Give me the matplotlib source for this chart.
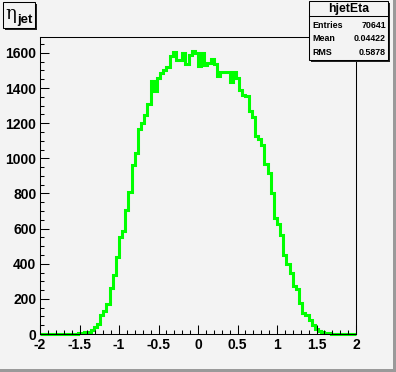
import numpy as np
import matplotlib
matplotlib.use("Agg")
import matplotlib.pyplot as plt
from matplotlib.patches import Rectangle
from matplotlib.ticker import MultipleLocator

# ─── DATA ─────────────────────────────────────────────────────────────────────
X_MIN, X_MAX, N_BINS = -2.0, 2.0, 100
counts = [
    0, 0, 0, 0, 0, 0, 0, 0, 0, 0,
    0, 1, 3, 6, 10, 12, 23, 42, 55, 108,
    133, 171, 260, 336, 440, 550, 587, 706, 809, 962,
    1033, 1165, 1203, 1245, 1310, 1440, 1385, 1456, 1484, 1500,
    1519, 1583, 1604, 1559, 1559, 1598, 1538, 1590, 1610, 1600,
    1525, 1600, 1530, 1540, 1567, 1535, 1470, 1492, 1492, 1490,
    1433, 1490, 1455, 1390, 1360, 1355, 1272, 1234, 1129, 1110,
    1074, 966, 917, 801, 658, 626, 564, 450, 399, 345,
    275, 254, 175, 121, 108, 80, 51, 30, 17, 10,
    5, 4, 2, 1, 0, 0, 0, 0, 0, 0,
]
hist_name = "hjetEta"
stat_labels = ["Entries", "Mean", "RMS"]
stat_values = ["70641", "0.04422", "0.5878"]
x_ticks = [-2, -1.5, -1, -0.5, 0, 0.5, 1, 1.5, 2]
x_tick_labels = ["-2", "-1.5", "-1", "-0.5", "0", "0.5", "1", "1.5", "2"]
y_ticks = [0, 200, 400, 600, 800, 1000, 1200, 1400, 1600]

W, H = 396, 372
BG = "#f3f3f3"
FONT = "Liberation Sans"

fig = plt.figure(figsize=(W / 100, H / 100), dpi=100, facecolor=BG)

def fx(px):
    return px / W

def fy(py):
    return 1 - py / H

# frame: x 40..356 px, y 37..334 px
ax = fig.add_axes([fx(40), fy(334), fx(356) - fx(40), fy(37) - fy(334)])
ax.set_facecolor(BG)

edges = np.linspace(X_MIN, X_MAX, N_BINS + 1)
ax.stairs(counts, edges, color="#00ff00", linewidth=2.2, baseline=None,
          clip_on=False, zorder=1)

ax.set_xlim(X_MIN, X_MAX)
ax.set_ylim(0, 1.05 * max(counts))

ax.set_xticks(x_ticks)
ax.set_xticklabels(x_tick_labels)
ax.set_yticks(y_ticks)
ax.xaxis.set_minor_locator(MultipleLocator(0.1))
ax.yaxis.set_minor_locator(MultipleLocator(50))
ax.tick_params(which="both", direction="in", width=0.75, color="black",
               top=False, right=False)
ax.tick_params(which="major", length=6.5)
ax.tick_params(which="minor", length=3.2)
ax.tick_params(axis="y", pad=2.6)
ax.tick_params(axis="x", pad=3.2)
for lab in ax.get_xticklabels() + ax.get_yticklabels():
    lab.set_fontfamily(FONT)
    lab.set_fontweight("bold")
    lab.set_fontsize(10)
for sp in ax.spines.values():
    sp.set_linewidth(0.75)
    sp.set_edgecolor("black")

# ─── title box ────────────────────────────────────────────────────────────────
def box(x0, y0, x1, y1, shadow=2):
    fig.patches.append(Rectangle((fx(x0 + shadow), fy(y1 + shadow)),
                                 fx(x1 - x0), fy(y0) - fy(y1),
                                 transform=fig.transFigure, facecolor="#222222",
                                 edgecolor="none", zorder=3))
    fig.patches.append(Rectangle((fx(x0), fy(y1)), fx(x1 - x0), fy(y0) - fy(y1),
                                 transform=fig.transFigure, facecolor=BG,
                                 edgecolor="black", linewidth=0.75, zorder=4))

box(3, 2, 35, 28)
fig.text(fx(5), fy(14), "η", fontsize=13, family="DejaVu Serif", ha="left",
         va="center", zorder=5)
fig.text(fx(17.5), fy(20), "jet", fontsize=9.5, family=FONT, fontweight="bold",
         ha="left", va="center", zorder=5)

# ─── stats box ────────────────────────────────────────────────────────────────
box(309, 1, 388, 60)
fig.lines.append(plt.Line2D([fx(309), fx(388)], [fy(16), fy(16)],
                            transform=fig.transFigure, color="black",
                            linewidth=0.75, zorder=5))
fig.text(fx(348.5), fy(9), hist_name, fontsize=8.8, family=FONT,
         fontweight="bold", ha="center", va="center", zorder=5)
for i, (lab, val) in enumerate(zip(stat_labels, stat_values)):
    yy = 25 + i * 13.8
    fig.text(fx(312), fy(yy), lab, fontsize=6.4, family=FONT,
             fontweight="bold", ha="left", va="center", zorder=5)
    fig.text(fx(386), fy(yy), val, fontsize=6.4, family=FONT,
             fontweight="bold", ha="right", va="center", zorder=5)

# ─── canvas bevel ─────────────────────────────────────────────────────────────
fig.patches.append(Rectangle((fx(W - 3), 0), fx(3), 1, transform=fig.transFigure,
                             facecolor="#9a9a9a", edgecolor="none", zorder=6))
fig.patches.append(Rectangle((0, 0), 1, 1 - fy(3), transform=fig.transFigure,
                             facecolor="#9a9a9a", edgecolor="none", zorder=6))

fig.savefig("out.png", dpi=100, facecolor=BG)
